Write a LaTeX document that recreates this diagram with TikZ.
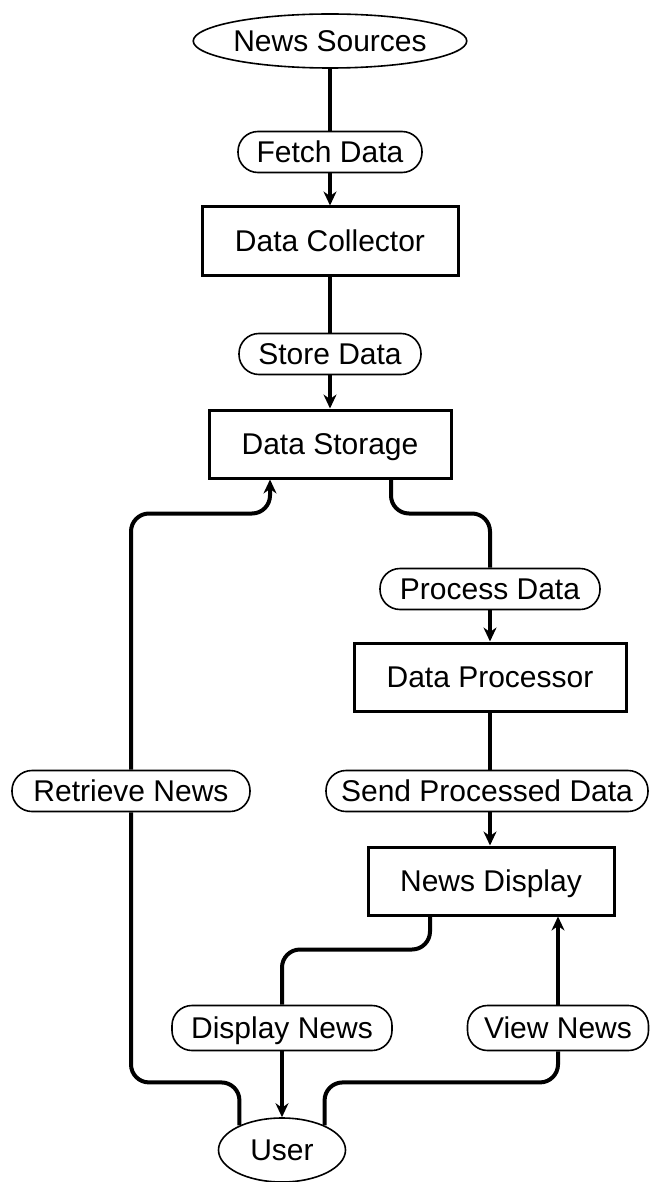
\documentclass[tikz,border=0pt]{standalone}
\usepackage{fontspec}
\setmainfont{Liberation Sans}
\usetikzlibrary{arrows.meta,shapes.geometric,calc}
\begin{document}
\begin{tikzpicture}[x=1pt,y=-1pt,
 every node/.style={font=\fontsize{30}{33}\selectfont, inner sep=0pt, text height=23.5pt, text depth=3pt},
 box/.style={draw, line width=3pt, minimum height=68pt},
 pill/.style={draw, line width=1.6pt, rounded corners=20pt, minimum height=41pt},
 oval/.style={draw, ellipse, line width=1.6pt},
 conn/.style={line width=4.5pt},
 arr/.style={line width=4.5pt, -{Stealth[length=14pt,width=13pt]}},
 elbow/.style={line width=4pt, rounded corners=18pt},
 elbowarr/.style={line width=4pt, rounded corners=18pt, -{Stealth[length=14pt,width=13pt]}}]
\useasboundingbox (0,0) rectangle (650,1182);
% nodes
\node[oval, minimum width=243pt, minimum height=54pt] (src) at (330,41) {News Sources};
\node[pill, minimum width=184pt] (fetch) at (330,152) {Fetch Data};
\node[box, minimum width=256pt] (coll) at (330,241) {Data Collector};
\node[pill, minimum width=182pt] (store) at (330,354) {Store Data};
\node[box, minimum width=242pt] (storage) at (330,444) {Data Storage};
\node[pill, minimum width=220pt] (procd) at (490,589) {Process Data};
\node[box, minimum width=272pt] (proc) at (490,677) {Data Processor};
\node[pill, minimum width=322pt] (send) at (487,791) {Send Processed Data};
\node[box, minimum width=246pt] (disp) at (491,881) {News Display};
\node[pill, minimum width=238pt] (retr) at (131,791) {Retrieve News};
\node[pill, minimum width=220pt, minimum height=45pt] (dnews) at (282,1028) {Display News};
\node[pill, minimum width=181pt, minimum height=45pt] (view) at (558,1028) {View News};
\node[oval, minimum width=127pt, minimum height=64pt] (user) at (282,1150) {User};
% connectors
\draw[conn] (src) -- (fetch);
\draw[arr] (fetch) -- (coll);
\draw[conn] (coll) -- (store);
\draw[arr] (store) -- (storage);
\draw[elbow] ([xshift=61pt]storage.south) -- ++(0,34) -| (procd.north);
\draw[arr] (procd) -- (proc);
\draw[conn] (proc.south) -- (proc.south |- send.north);
\draw[arr] (proc.south |- send.south) -- (disp.north -| proc.south);
\draw[elbow] ([xshift=-61pt]disp.south) -- ++(0,33) -| (dnews.north);
\draw[arr] (dnews) -- (user);
\draw[elbow] (user.150) -- ++(0,-43) -| (retr.south);
\draw[elbowarr] (retr.north) |- ($(storage.south)+(-60,34)$) -- ([xshift=-60pt]storage.south);
\draw[elbow] (user.30) -- ++(0,-43) -| (view.south);
\draw[arr] (view.north) -- (view.north |- disp.south);
\end{tikzpicture}
\end{document}
